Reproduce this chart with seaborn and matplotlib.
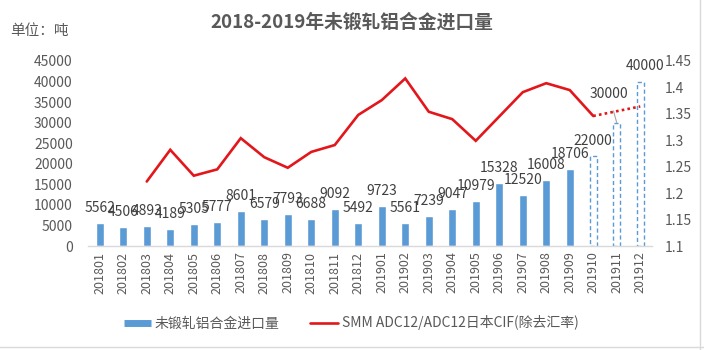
import numpy as np
import pandas as pd
import matplotlib
matplotlib.use("Agg")
import matplotlib.pyplot as plt
import seaborn as sns
from matplotlib.lines import Line2D
from matplotlib.ticker import FormatStrFormatter, MultipleLocator

# ---------------- data ----------------
months = ["201801", "201802", "201803", "201804", "201805", "201806",
          "201807", "201808", "201809", "201810", "201811", "201812",
          "201901", "201902", "201903", "201904", "201905", "201906",
          "201907", "201908", "201909", "201910", "201911", "201912"]
import_months = months[:21]
imports = [5562, 4506, 4893, 4189, 5305, 5777, 8601, 6579, 7793, 6688, 9092,
           5492, 9723, 5561, 7239, 9047, 10979, 15328, 12520, 16008, 18706]
forecast_months = ["201910", "201911", "201912"]
forecast = [22000, 30000, 40000]
price_months = months[2:22]
price = [1.222, 1.282, 1.233, 1.245, 1.304, 1.268, 1.248, 1.278, 1.291, 1.348,
         1.376, 1.417, 1.354, 1.340, 1.299, 1.345, 1.391, 1.408, 1.395, 1.346]
price_fc_months = ["201910", "201912"]
price_fc = [1.346, 1.364]

title = "2018-2019年未锻轧铝合金进口量"
unit = "单位：吨"
bar_name = "未锻轧铝合金进口量"
line_name = "SMM ADC12/ADC12日本CIF(除去汇率)"

# ---------------- style ----------------
sns.set_theme(style="white")
plt.rcParams["font.family"] = ["Noto Sans CJK SC", "DejaVu Sans"]
GRAY = "#595959"
BLUE = "#5B9BD5"
RED = "#E3161B"

W, H = 704, 350
fig = plt.figure(figsize=(W / 100, H / 100), dpi=100)
ax = fig.add_axes([88 / W, 1 - 246 / H, (652 - 88) / W, (246 - 61) / H])

df = pd.DataFrame({"month": months})
df["imports"] = df["month"].map(dict(zip(import_months, imports)))
df["forecast"] = df["month"].map(dict(zip(forecast_months, forecast)))

sns.barplot(data=df, x="month", y="imports", order=months, color=BLUE,
            saturation=1, width=0.32, ax=ax, errorbar=None)
n0 = len(ax.patches)
sns.barplot(data=df, x="month", y="forecast", order=months, color=BLUE,
            saturation=1, width=0.30, ax=ax, errorbar=None, fill=False)
for p in ax.patches[n0:]:
    p.set_facecolor("none")
    p.set_edgecolor(BLUE)
    p.set_linestyle((0, (3, 2)))
    p.set_linewidth(1.0)

ax.set_xlim(-0.5, len(months) - 0.5)
ax.set_ylim(0, 45000)
ax.yaxis.set_major_locator(MultipleLocator(5000))
ax.set_xlabel("")
ax.set_ylabel("")
ax.tick_params(axis="x", rotation=90, labelsize=9, colors=GRAY, length=0, pad=4)
ax.tick_params(axis="y", labelsize=10, colors=GRAY, length=0, pad=11)
for s in ["top", "right", "left"]:
    ax.spines[s].set_visible(False)
ax.spines["bottom"].set_color("#D9D9D9")
ax.spines["bottom"].set_linewidth(1)
ax.grid(False)

# bar labels
for m, v in zip(import_months, imports):
    ax.annotate(str(v), (months.index(m), v), xytext=(0, 10.8),
                textcoords="offset points", ha="center", va="center",
                fontsize=10, color="#404040")
fc_offsets = {"201910": (0, 10.8), "201911": (-5.8, 20.7), "201912": (3.6, 11.3)}
for m, v in zip(forecast_months, forecast):
    dx, dy = fc_offsets[m]
    if m == "201911":
        ax.annotate(str(v), (months.index(m), v), xytext=(dx, dy),
                    textcoords="offset points", ha="center", va="center",
                    fontsize=10, color="#404040",
                    arrowprops=dict(arrowstyle="-", color="#A6A6A6", lw=0.8,
                                    shrinkA=5, shrinkB=0))
    else:
        ax.annotate(str(v), (months.index(m), v), xytext=(dx, dy),
                    textcoords="offset points", ha="center", va="center",
                    fontsize=10, color="#404040")

# line on secondary axis
ax2 = ax.twinx()
ax2.plot([months.index(m) for m in price_months], price, color=RED, lw=1.9,
         solid_joinstyle="miter")
ax2.plot([months.index(m) for m in price_fc_months], price_fc, color=RED,
         lw=1.9, linestyle=(0, (1, 1.2)))
ax2.set_ylim(1.1, 1.45)
ax2.yaxis.set_major_locator(MultipleLocator(0.05))
ax2.yaxis.set_major_formatter(FormatStrFormatter("%g"))
ax2.tick_params(axis="y", labelsize=10, colors=GRAY, length=0, pad=9)
for s in ["top", "right", "left", "bottom"]:
    ax2.spines[s].set_visible(False)
ax2.grid(False)

# title and unit
fig.text(352 / W, 1 - 22 / H, title, ha="center", va="center", fontsize=13.5,
         fontweight="bold", color=GRAY)
fig.text(10 / W, 1 - 31 / H, unit, ha="left", va="center", fontsize=10.5,
         color=GRAY)

# legend
handles = [Line2D([], [], color=BLUE, lw=5, solid_capstyle="butt"),
           Line2D([], [], color=RED, lw=1.9)]
fig.legend(handles, [bar_name, line_name], loc="center",
           bbox_to_anchor=(351 / W, 1 - 323 / H), ncol=2, frameon=False,
           fontsize=10, handlelength=2.0, handletextpad=0.25,
           columnspacing=2.2, labelcolor=GRAY)

# faint frame lines
fig.add_artist(Line2D([700 / W, 700 / W], [0, 1], color="#D9D9D9", lw=1))
fig.add_artist(Line2D([0, 1], [1 - 347 / H, 1 - 347 / H], color="#D9D9D9", lw=1))

fig.savefig("out.png", dpi=100, facecolor="white")
